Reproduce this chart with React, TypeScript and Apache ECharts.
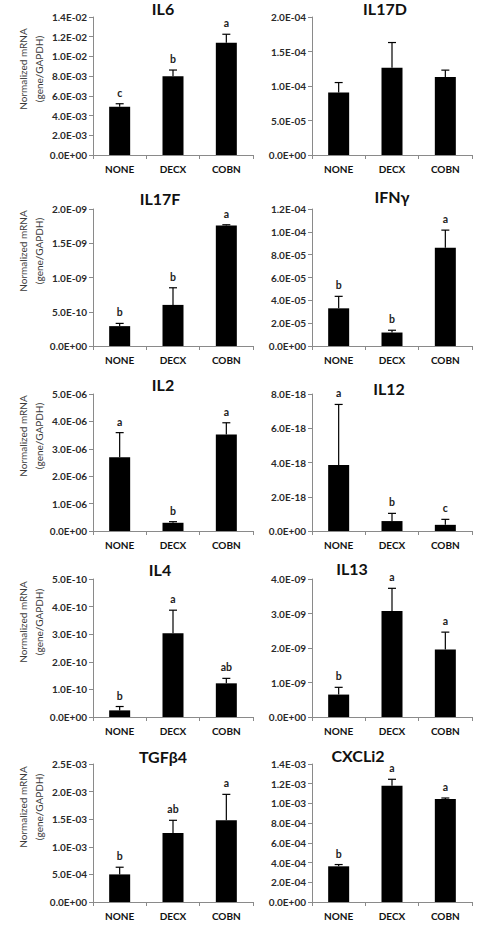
import React, { useEffect, useRef } from "react";
import * as echarts from "echarts";

const categories = ["NONE", "DECX", "COBN"];
const genes = ["IL6", "IL17D", "IL17F", "IFNγ", "IL2", "IL12", "IL4", "IL13", "TGFβ4", "CXCLi2"];

// means and upper error (SEM) per gene, in category order NONE, DECX, COBN
const il6Mean = [4.9e-3, 8.0e-3, 1.14e-2];
const il6Err = [0.3e-3, 0.62e-3, 0.85e-3];
const il6Letters = ["c", "b", "a"];

const il17dMean = [9.05e-5, 1.265e-4, 1.13e-4];
const il17dErr = [1.45e-5, 3.65e-5, 1.0e-5];
const il17dLetters = ["", "", ""];

const il17fMean = [2.9e-10, 6.0e-10, 1.76e-9];
const il17fErr = [0.4e-10, 2.5e-10, 0.1e-10];
const il17fLetters = ["b", "b", "a"];

const ifngMean = [3.3e-5, 1.18e-5, 8.6e-5];
const ifngErr = [1.05e-5, 0.2e-5, 1.55e-5];
const ifngLetters = ["b", "b", "a"];

const il2Mean = [2.69e-6, 0.3e-6, 3.52e-6];
const il2Err = [0.9e-6, 0.04e-6, 0.43e-6];
const il2Letters = ["a", "b", "a"];

const il12Mean = [3.86e-18, 0.58e-18, 0.36e-18];
const il12Err = [3.53e-18, 0.45e-18, 0.32e-18];
const il12Letters = ["a", "b", "c"];

const il4Mean = [2.4e-11, 3.03e-10, 1.22e-10];
const il4Err = [1.4e-11, 0.84e-10, 0.18e-10];
const il4Letters = ["b", "a", "ab"];

const il13Mean = [6.5e-10, 3.07e-9, 1.96e-9];
const il13Err = [2.1e-10, 0.66e-9, 0.5e-9];
const il13Letters = ["b", "a", "a"];

const tgfMean = [5.0e-4, 1.25e-3, 1.48e-3];
const tgfErr = [1.3e-4, 0.23e-3, 0.47e-3];
const tgfLetters = ["b", "ab", "a"];

const cxcMean = [3.62e-4, 1.18e-3, 1.045e-3];
const cxcErr = [0.18e-4, 0.065e-3, 0.01e-3];
const cxcLetters = ["b", "a", "a"];

const means = [il6Mean, il17dMean, il17fMean, ifngMean, il2Mean, il12Mean, il4Mean, il13Mean, tgfMean, cxcMean];
const errs = [il6Err, il17dErr, il17fErr, ifngErr, il2Err, il12Err, il4Err, il13Err, tgfErr, cxcErr];
const letters = [il6Letters, il17dLetters, il17fLetters, ifngLetters, il2Letters, il12Letters, il4Letters, il13Letters, tgfLetters, cxcLetters];

const yMax = [1.4e-2, 2e-4, 2e-9, 1.2e-4, 5e-6, 8e-18, 5e-10, 4e-9, 2.5e-3, 1.4e-3];
const yStep = [2e-3, 5e-5, 5e-10, 2e-5, 1e-6, 2e-18, 1e-10, 1e-9, 5e-4, 2e-4];

const yName1 = "Normalized mRNA";
const yName2 = "(gene/GAPDH)";

// layout
const colLeft = [93, 312];
const plotWidth = 160;
const rowTop = [17, 209, 394, 579, 764];
const rowBottom = [155, 346, 531, 717, 902];
const titlePos = [
  [163, 10], [385, 10], [160, 200], [392, 198], [163, 386],
  [389, 390], [160, 571], [352, 570], [163, 758], [358, 757],
];
const yNameCenter = [69, 251, 436, 622, 807];

const FONT = "Lato, 'Open Sans', sans-serif";

function sci(v: number): string {
  if (Math.abs(v) < 1e-40) return "0.0E+00";
  let e = Math.floor(Math.log10(Math.abs(v)));
  let ms = (v / Math.pow(10, e)).toFixed(1);
  if (ms === "10.0") {
    e += 1;
    ms = "1.0";
  }
  const ae = Math.abs(e);
  return `${ms}E${e < 0 ? "-" : "+"}${ae < 10 ? "0" + ae : ae}`;
}

export default function App() {
  const ref = useRef<HTMLDivElement>(null);
  useEffect(() => {
    if (!ref.current) return;
    const chart = echarts.init(ref.current, undefined, { renderer: "svg" });
    const grid: any[] = [];
    const xAxis: any[] = [];
    const yAxis: any[] = [];
    const series: any[] = [];
    const title: any[] = [];
    const graphic: any[] = [];

    genes.forEach((g, i) => {
      const row = Math.floor(i / 2);
      const col = i % 2;
      grid.push({
        left: colLeft[col],
        top: rowTop[row],
        width: plotWidth,
        height: rowBottom[row] - rowTop[row],
      });
      xAxis.push({
        type: "category",
        gridIndex: i,
        data: categories,
        boundaryGap: true,
        axisLine: { lineStyle: { color: "#8a8a8a", width: 1 } },
        axisTick: { show: true, length: 4, alignWithLabel: false, lineStyle: { color: "#8a8a8a" } },
        axisLabel: { fontFamily: FONT, fontSize: 10, fontWeight: "bold", color: "#111", margin: 9 },
        splitLine: { show: false },
      });
      yAxis.push({
        type: "value",
        gridIndex: i,
        min: 0,
        max: yMax[i],
        interval: yStep[i],
        axisLine: { show: true, lineStyle: { color: "#8a8a8a", width: 1 } },
        axisTick: { show: true, length: 4, lineStyle: { color: "#8a8a8a" } },
        axisLabel: {
          fontFamily: FONT,
          fontSize: 10,
          fontWeight: "bold",
          color: "#2a2a2a",
          margin: 6,
          formatter: (v: number) => sci(v),
        },
        splitLine: { show: false },
      });
      series.push({
        type: "bar",
        xAxisIndex: i,
        yAxisIndex: i,
        data: means[i],
        barWidth: 21,
        itemStyle: { color: "#000" },
        silent: true,
      });
      const lt = letters[i];
      series.push({
        type: "custom",
        xAxisIndex: i,
        yAxisIndex: i,
        clip: false,
        silent: true,
        encode: { x: 0, y: [1, 2] },
        data: means[i].map((m, k) => [k, m, m + errs[i][k]]),
        renderItem: (params: any, api: any) => {
          const idx = api.value(0);
          const p0 = api.coord([idx, api.value(1)]);
          const p1 = api.coord([idx, api.value(2)]);
          const children: any[] = [
            {
              type: "line",
              shape: { x1: p0[0], y1: p0[1], x2: p1[0], y2: p1[1] },
              style: { stroke: "#000", lineWidth: 1.2 },
            },
            {
              type: "line",
              shape: { x1: p1[0] - 4, y1: p1[1], x2: p1[0] + 4, y2: p1[1] },
              style: { stroke: "#000", lineWidth: 1.2 },
            },
          ];
          const letter = lt[params.dataIndex];
          if (letter) {
            children.push({
              type: "text",
              x: p1[0],
              y: p1[1] - 11,
              style: {
                text: letter,
                align: "center",
                verticalAlign: "middle",
                fontSize: 10.5,
                fontWeight: "bold",
                fontFamily: FONT,
                fill: "#222",
              },
            });
          }
          return { type: "group", children };
        },
      });
      title.push({
        text: g,
        left: titlePos[i][0],
        top: titlePos[i][1] - 10,
        textAlign: "center",
        padding: 0,
        textStyle: { fontFamily: FONT, fontSize: 16, fontWeight: "bold", color: "#111" },
      });
    });

    yNameCenter.forEach((cy) => {
      graphic.push({
        type: "text",
        x: 23,
        y: cy,
        rotation: Math.PI / 2,
        style: {
          text: yName1,
          align: "center",
          verticalAlign: "middle",
          fontFamily: FONT,
          fontSize: 10,
          fill: "#3a3a3a",
        },
      });
      graphic.push({
        type: "text",
        x: 39,
        y: cy,
        rotation: Math.PI / 2,
        style: {
          text: yName2,
          align: "center",
          verticalAlign: "middle",
          fontFamily: FONT,
          fontSize: 10,
          fill: "#3a3a3a",
        },
      });
    });

    chart.setOption({
      animation: false,
      backgroundColor: "#fff",
      title,
      grid,
      xAxis,
      yAxis,
      series,
      graphic,
    });
    return () => chart.dispose();
  }, []);
  return (
    <div
      ref={ref}
      style={{ position: "fixed", left: 0, top: 0, width: 485, height: 925 }}
    />
  );
}
